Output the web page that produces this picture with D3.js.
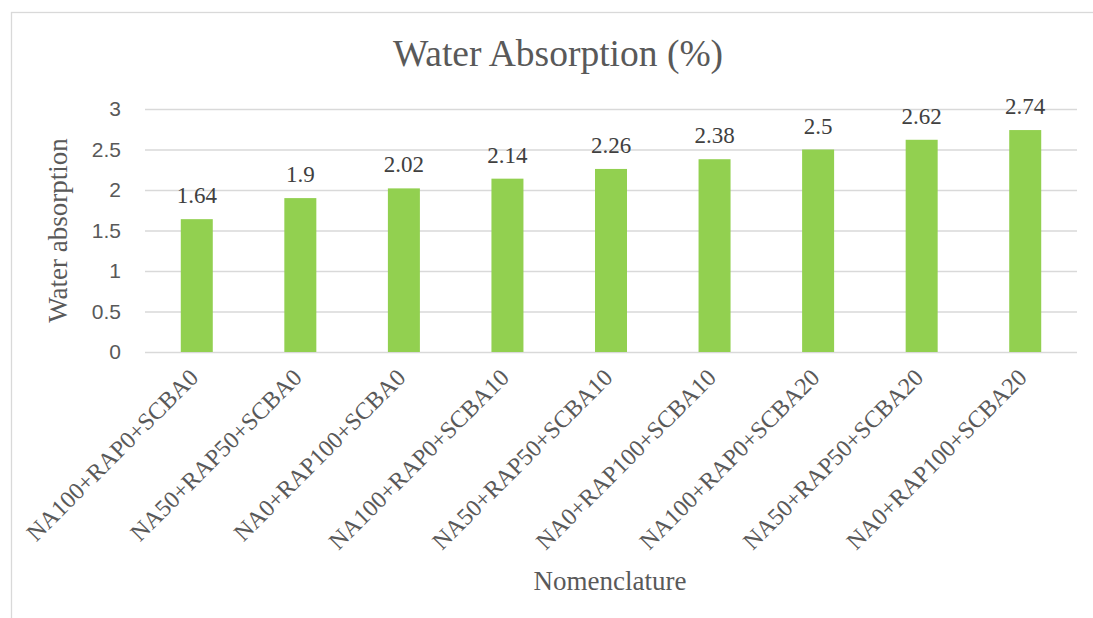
<!DOCTYPE html>
<html>
<head>
<meta charset="utf-8">
<script src="https://cdn.jsdelivr.net/npm/d3@7"></script>
<style>
  html, body { margin: 0; padding: 0; background: #ffffff; }
  svg { display: block; }
</style>
</head>
<body>
<svg id="chart" width="1093" height="618"></svg>
<script>
const categories = [
  "NA100+RAP0+SCBA0",
  "NA50+RAP50+SCBA0",
  "NA0+RAP100+SCBA0",
  "NA100+RAP0+SCBA10",
  "NA50+RAP50+SCBA10",
  "NA0+RAP100+SCBA10",
  "NA100+RAP0+SCBA20",
  "NA50+RAP50+SCBA20",
  "NA0+RAP100+SCBA20"
];
const values = [1.64, 1.9, 2.02, 2.14, 2.26, 2.38, 2.5, 2.62, 2.74];
const yTicks = [0, 0.5, 1, 1.5, 2, 2.5, 3];
const titleText = "Water Absorption (%)";
const yTitle = "Water absorption";
const xTitle = "Nomenclature";

(function () {
const svg = d3.select("#chart");
const textColor = "#595959";
const SERIF = "'Liberation Serif', 'Times New Roman', serif";
const SANS = "'Liberation Sans', Arial, sans-serif";

// chart border
svg.append("rect")
  .attr("x", 11.5).attr("y", 12.5)
  .attr("width", 1100).attr("height", 620)
  .attr("fill", "none").attr("stroke", "#d9d9d9").attr("stroke-width", 1.3);

const pl = 145, pr = 1077, pt = 109, pb = 352;

const x = d3.scaleBand().domain(categories).range([pl, pr]).padding(0);
const y = d3.scaleLinear().domain([0, 3]).range([pb, pt]);

// y axis + gridlines
const yAxis = svg.append("g")
  .attr("transform", `translate(${pl},0)`)
  .call(d3.axisLeft(y).tickValues(yTicks).tickFormat(d3.format("~g"))
    .tickSizeInner(-(pr - pl)).tickSizeOuter(0).tickPadding(24));
yAxis.select(".domain").remove();
yAxis.selectAll(".tick line").attr("stroke", "#d9d9d9").attr("stroke-width", 1.3);
yAxis.selectAll(".tick text")
  .style("font-family", SANS)
  .style("font-size", "21px").attr("fill", textColor);

// bars
const barW = 32;
svg.append("g").selectAll("rect")
  .data(values)
  .join("rect")
  .attr("x", (d, i) => x(categories[i]) + x.bandwidth() / 2 - barW / 2)
  .attr("y", d => y(d))
  .attr("width", barW)
  .attr("height", d => y(0) - y(d))
  .attr("fill", "#92d050");

// data labels
const labels = svg.append("g").style("font-family", SERIF);
labels.selectAll("text")
  .data(values)
  .join("text")
  .style("font-family", SERIF)
  .attr("x", (d, i) => x(categories[i]) + x.bandwidth() / 2)
  .attr("y", d => y(d) - 16)
  .attr("text-anchor", "middle")
  .style("font-size", "23px").attr("fill", "#404040")
  .text(d => d3.format("~g")(d));

// x axis category labels
const xAxis = svg.append("g")
  .attr("transform", `translate(0,${pb})`)
  .call(d3.axisBottom(x).tickSize(0).tickPadding(0));
xAxis.select(".domain").remove();
xAxis.selectAll(".tick text")
  .style("font-family", SERIF)
  .style("font-size", "24px").attr("fill", textColor)
  .attr("text-anchor", "end")
  .attr("dy", null)
  .attr("y", 0)
  .attr("transform", "translate(3,27) rotate(-45)");

// title
svg.append("text")
  .style("font-family", SERIF)
  .attr("x", 558).attr("y", 66)
  .attr("text-anchor", "middle")
  .style("font-size", "37.5px").attr("fill", textColor)
  .text(titleText);

// y title
svg.append("text")
  .style("font-family", SERIF)
  .attr("transform", `translate(67,${(pt + pb) / 2}) rotate(-90)`)
  .attr("text-anchor", "middle")
  .style("font-size", "27px").attr("fill", textColor)
  .text(yTitle);

// x title
svg.append("text")
  .style("font-family", SERIF)
  .attr("x", 610).attr("y", 590)
  .attr("text-anchor", "middle")
  .style("font-size", "27px").attr("fill", textColor)
  .text(xTitle);
})();
</script>
</body>
</html>
